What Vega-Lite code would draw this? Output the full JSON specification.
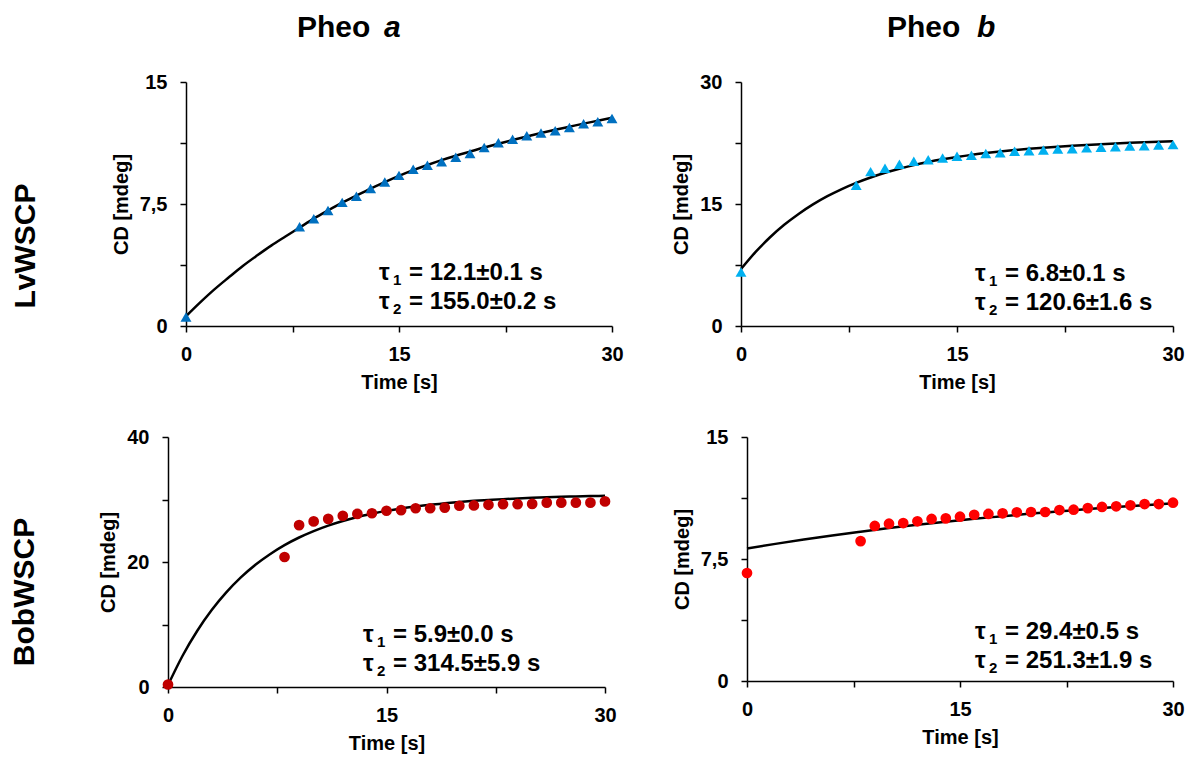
{
  "$schema": "https://vega.github.io/schema/vega-lite/v6.json",
  "background": "white",
  "padding": {"left": 0, "top": 0, "right": 5, "bottom": 5},
  "bounds": "full",
  "spacing": 29,
  "datasets": {
    "ptsA": [{"t":0,"cd":0.55},{"t":8,"cd":6.1},{"t":9,"cd":6.6},{"t":10,"cd":7.1},{"t":11,"cd":7.6},{"t":12,"cd":7.97},{"t":13,"cd":8.46},{"t":14,"cd":8.85},{"t":15,"cd":9.26},{"t":16,"cd":9.63},{"t":17,"cd":9.88},{"t":18,"cd":10.1},{"t":19,"cd":10.37},{"t":20,"cd":10.6},{"t":21,"cd":10.98},{"t":22,"cd":11.27},{"t":23,"cd":11.48},{"t":24,"cd":11.7},{"t":25,"cd":11.86},{"t":26,"cd":12.0},{"t":27,"cd":12.2},{"t":28,"cd":12.44},{"t":29,"cd":12.56},{"t":30,"cd":12.75}],
    "fitA": [{"t":0,"cd":0.6},{"t":1,"cd":1.45},{"t":2,"cd":2.25},{"t":3,"cd":2.98},{"t":4,"cd":3.69},{"t":5,"cd":4.33},{"t":6,"cd":4.94},{"t":7,"cd":5.5},{"t":8,"cd":6.05},{"t":9,"cd":6.6},{"t":10,"cd":7.1},{"t":11,"cd":7.58},{"t":12,"cd":8.02},{"t":13,"cd":8.45},{"t":14,"cd":8.85},{"t":15,"cd":9.23},{"t":16,"cd":9.58},{"t":17,"cd":9.9},{"t":18,"cd":10.2},{"t":19,"cd":10.47},{"t":20,"cd":10.72},{"t":21,"cd":10.97},{"t":22,"cd":11.2},{"t":23,"cd":11.43},{"t":24,"cd":11.65},{"t":25,"cd":11.86},{"t":26,"cd":12.06},{"t":27,"cd":12.25},{"t":28,"cd":12.44},{"t":29,"cd":12.62},{"t":30,"cd":12.8}],
    "ptsB": [{"t":0,"cd":6.64},{"t":8,"cd":17.3},{"t":9,"cd":18.98},{"t":10,"cd":19.4},{"t":11,"cd":19.9},{"t":12,"cd":20.25},{"t":13,"cd":20.45},{"t":14,"cd":20.65},{"t":15,"cd":20.86},{"t":16,"cd":21.0},{"t":17,"cd":21.2},{"t":18,"cd":21.3},{"t":19,"cd":21.5},{"t":20,"cd":21.56},{"t":21,"cd":21.64},{"t":22,"cd":21.76},{"t":23,"cd":21.8},{"t":24,"cd":21.9},{"t":25,"cd":21.97},{"t":26,"cd":22.05},{"t":27,"cd":22.13},{"t":28,"cd":22.17},{"t":29,"cd":22.25},{"t":30,"cd":22.3}],
    "fitB": [{"t":0,"cd":7.0},{"t":1,"cd":9.08},{"t":2,"cd":10.88},{"t":3,"cd":12.44},{"t":4,"cd":13.78},{"t":5,"cd":14.95},{"t":6,"cd":15.96},{"t":7,"cd":16.84},{"t":8,"cd":17.6},{"t":9,"cd":18.26},{"t":10,"cd":18.84},{"t":11,"cd":19.34},{"t":12,"cd":19.78},{"t":13,"cd":20.16},{"t":14,"cd":20.49},{"t":15,"cd":20.78},{"t":16,"cd":21.04},{"t":17,"cd":21.26},{"t":18,"cd":21.46},{"t":19,"cd":21.63},{"t":20,"cd":21.79},{"t":21,"cd":21.93},{"t":22,"cd":22.05},{"t":23,"cd":22.16},{"t":24,"cd":22.26},{"t":25,"cd":22.35},{"t":26,"cd":22.44},{"t":27,"cd":22.52},{"t":28,"cd":22.59},{"t":29,"cd":22.65},{"t":30,"cd":22.7}],
    "ptsC": [{"t":0,"cd":0.4},{"t":8,"cd":20.8},{"t":9,"cd":25.9},{"t":10,"cd":26.5},{"t":11,"cd":26.9},{"t":12,"cd":27.4},{"t":13,"cd":27.7},{"t":14,"cd":27.8},{"t":15,"cd":28.2},{"t":16,"cd":28.3},{"t":17,"cd":28.6},{"t":18,"cd":28.6},{"t":19,"cd":28.7},{"t":20,"cd":29.0},{"t":21,"cd":29.05},{"t":22,"cd":29.15},{"t":23,"cd":29.25},{"t":24,"cd":29.25},{"t":25,"cd":29.3},{"t":26,"cd":29.5},{"t":27,"cd":29.5},{"t":28,"cd":29.5},{"t":29,"cd":29.5},{"t":30,"cd":29.7}],
    "fitC": [{"t":0,"cd":0.3},{"t":1,"cd":5.0},{"t":2,"cd":8.96},{"t":3,"cd":12.31},{"t":4,"cd":15.13},{"t":5,"cd":17.53},{"t":6,"cd":19.55},{"t":7,"cd":21.25},{"t":8,"cd":22.7},{"t":9,"cd":23.92},{"t":10,"cd":24.95},{"t":11,"cd":25.83},{"t":12,"cd":26.57},{"t":13,"cd":27.2},{"t":14,"cd":27.72},{"t":15,"cd":28.18},{"t":16,"cd":28.57},{"t":17,"cd":28.89},{"t":18,"cd":29.17},{"t":19,"cd":29.4},{"t":20,"cd":29.61},{"t":21,"cd":29.79},{"t":22,"cd":29.93},{"t":23,"cd":30.06},{"t":24,"cd":30.17},{"t":25,"cd":30.27},{"t":26,"cd":30.35},{"t":27,"cd":30.43},{"t":28,"cd":30.49},{"t":29,"cd":30.55},{"t":30,"cd":30.6}],
    "ptsD": [{"t":0,"cd":6.64},{"t":8,"cd":8.6},{"t":9,"cd":9.53},{"t":10,"cd":9.67},{"t":11,"cd":9.71},{"t":12,"cd":9.82},{"t":13,"cd":9.96},{"t":14,"cd":10.0},{"t":15,"cd":10.1},{"t":16,"cd":10.22},{"t":17,"cd":10.27},{"t":18,"cd":10.31},{"t":19,"cd":10.37},{"t":20,"cd":10.39},{"t":21,"cd":10.39},{"t":22,"cd":10.51},{"t":23,"cd":10.53},{"t":24,"cd":10.63},{"t":25,"cd":10.7},{"t":26,"cd":10.74},{"t":27,"cd":10.8},{"t":28,"cd":10.88},{"t":29,"cd":10.88},{"t":30,"cd":10.96}],
    "fitD": [{"t":0,"cd":8.15},{"t":2,"cd":8.43},{"t":4,"cd":8.7},{"t":6,"cd":8.95},{"t":8,"cd":9.18},{"t":10,"cd":9.4},{"t":12,"cd":9.6},{"t":14,"cd":9.79},{"t":16,"cd":9.97},{"t":18,"cd":10.13},{"t":20,"cd":10.29},{"t":22,"cd":10.43},{"t":24,"cd":10.57},{"t":26,"cd":10.69},{"t":28,"cd":10.81},{"t":30,"cd":10.92}],
    "annA": [{"line":1,"sym":"τ","sub":"1","txt":"= 12.1±0.1 s"},{"line":2,"sym":"τ","sub":"2","txt":"= 155.0±0.2 s"}],
    "annB": [{"line":1,"sym":"τ","sub":"1","txt":"= 6.8±0.1 s"},{"line":2,"sym":"τ","sub":"2","txt":"= 120.6±1.6 s"}],
    "annC": [{"line":1,"sym":"τ","sub":"1","txt":"= 5.9±0.0 s"},{"line":2,"sym":"τ","sub":"2","txt":"= 314.5±5.9 s"}],
    "annD": [{"line":1,"sym":"τ","sub":"1","txt":"= 29.4±0.5 s"},{"line":2,"sym":"τ","sub":"2","txt":"= 251.3±1.9 s"}]
  },
  "vconcat": [
    {
      "bounds": "flush",
      "spacing": 129,
      "hconcat": [
        {"width": 57, "height": 40, "data": {"values": [{"label": ""}]}, "mark": {"type": "text"}, "encoding": {"text": {"field": "label"}}},
        {"width": 426, "height": 40, "data": {"values": [{"w": "Pheo", "v": "a"}]},
         "layer": [
           {"mark": {"type": "text", "fontSize": 30, "align": "left", "baseline": "middle", "dx": -102, "dy": 8}, "encoding": {"text": {"field": "w"}}},
           {"mark": {"type": "text", "fontSize": 30, "fontStyle": "italic", "align": "left", "baseline": "middle", "dx": -15, "dy": 8}, "encoding": {"text": {"field": "v"}}}
         ]},
        {"width": 432, "height": 40, "data": {"values": [{"w": "Pheo", "v": "b"}]},
         "layer": [
           {"mark": {"type": "text", "fontSize": 30, "align": "left", "baseline": "middle", "dx": -70, "dy": 8}, "encoding": {"text": {"field": "w"}}},
           {"mark": {"type": "text", "fontSize": 30, "fontStyle": "italic", "align": "left", "baseline": "middle", "dx": 20, "dy": 8}, "encoding": {"text": {"field": "v"}}}
         ]}
      ]
    },
    {
      "bounds": "flush",
      "spacing": 129,
      "hconcat": [
        {"width": 57, "height": 316, "data": {"values": [{"label": "LvWSCP"}]}, "mark": {"type": "text", "angle": 270, "fontSize": 30, "align": "center", "baseline": "middle", "dx": -6, "dy": -3}, "encoding": {"text": {"field": "label"}}},
        {
          "width": 426, "height": 244,
          "layer": [
            {"data": {"name": "fitA"}, "mark": {"type": "line", "color": "black", "strokeWidth": 2.5, "interpolate": "monotone"},
             "encoding": {
               "x": {"field": "t", "type": "quantitative", "scale": {"domain": [0, 30], "nice": false}, "axis": {"title": "Time [s]", "values": [0, 7.5, 15, 22.5, 30], "labelExpr": "datum.value % 15 === 0 ? toString(datum.value) : ''"}},
               "y": {"field": "cd", "type": "quantitative", "scale": {"domain": [0, 15], "nice": false}, "axis": {"title": "CD [mdeg]", "values": [0, 3.75, 7.5, 11.25, 15], "labelExpr": "datum.value % 7.5 === 0 ? replace(toString(datum.value), '.', ',') : ''"}}
             }},
            {"data": {"name": "ptsA"}, "mark": {"type": "point", "shape": "triangle-up", "filled": true, "size": 120, "color": "#0070C0", "opacity": 1},
             "encoding": {"x": {"field": "t", "type": "quantitative"}, "y": {"field": "cd", "type": "quantitative"}}},
            {"data": {"name": "annA"}, "transform": [{"filter": "datum.line === 1"}],
             "encoding": {"x": {"datum": 13.59, "type": "quantitative"}, "y": {"datum": 2.83, "type": "quantitative"}},
             "layer": [
               {"mark": {"type": "text", "fontSize": 24}, "encoding": {"text": {"field": "sym"}}},
               {"mark": {"type": "text", "fontSize": 15, "dx": 14, "dy": 5}, "encoding": {"text": {"field": "sub"}}},
               {"mark": {"type": "text", "fontSize": 24, "dx": 30}, "encoding": {"text": {"field": "txt"}}}
             ]},
            {"data": {"name": "annA"}, "transform": [{"filter": "datum.line === 2"}],
             "encoding": {"x": {"datum": 13.59, "type": "quantitative"}, "y": {"datum": 1.05, "type": "quantitative"}},
             "layer": [
               {"mark": {"type": "text", "fontSize": 24}, "encoding": {"text": {"field": "sym"}}},
               {"mark": {"type": "text", "fontSize": 15, "dx": 14, "dy": 5}, "encoding": {"text": {"field": "sub"}}},
               {"mark": {"type": "text", "fontSize": 24, "dx": 30}, "encoding": {"text": {"field": "txt"}}}
             ]}
          ]
        },
        {
          "width": 432, "height": 244,
          "layer": [
            {"data": {"name": "fitB"}, "mark": {"type": "line", "color": "black", "strokeWidth": 2.5, "interpolate": "monotone"},
             "encoding": {
               "x": {"field": "t", "type": "quantitative", "scale": {"domain": [0, 30], "nice": false}, "axis": {"title": "Time [s]", "values": [0, 7.5, 15, 22.5, 30], "labelExpr": "datum.value % 15 === 0 ? toString(datum.value) : ''"}},
               "y": {"field": "cd", "type": "quantitative", "scale": {"domain": [0, 30], "nice": false}, "axis": {"title": "CD [mdeg]", "values": [0, 7.5, 15, 22.5, 30], "labelExpr": "datum.value % 15 === 0 ? toString(datum.value) : ''"}}
             }},
            {"data": {"name": "ptsB"}, "mark": {"type": "point", "shape": "triangle-up", "filled": true, "size": 120, "color": "#00B0F0", "opacity": 1},
             "encoding": {"x": {"field": "t", "type": "quantitative"}, "y": {"field": "cd", "type": "quantitative"}}},
            {"data": {"name": "annB"}, "transform": [{"filter": "datum.line === 1"}],
             "encoding": {"x": {"datum": 16.25, "type": "quantitative"}, "y": {"datum": 5.53, "type": "quantitative"}},
             "layer": [
               {"mark": {"type": "text", "fontSize": 24}, "encoding": {"text": {"field": "sym"}}},
               {"mark": {"type": "text", "fontSize": 15, "dx": 14, "dy": 5}, "encoding": {"text": {"field": "sub"}}},
               {"mark": {"type": "text", "fontSize": 24, "dx": 30}, "encoding": {"text": {"field": "txt"}}}
             ]},
            {"data": {"name": "annB"}, "transform": [{"filter": "datum.line === 2"}],
             "encoding": {"x": {"datum": 16.25, "type": "quantitative"}, "y": {"datum": 1.97, "type": "quantitative"}},
             "layer": [
               {"mark": {"type": "text", "fontSize": 24}, "encoding": {"text": {"field": "sym"}}},
               {"mark": {"type": "text", "fontSize": 15, "dx": 14, "dy": 5}, "encoding": {"text": {"field": "sub"}}},
               {"mark": {"type": "text", "fontSize": 24, "dx": 30}, "encoding": {"text": {"field": "txt"}}}
             ]}
          ]
        }
      ]
    },
    {
      "bounds": "flush",
      "spacing": 142,
      "hconcat": [
        {"width": 26, "height": 250, "data": {"values": [{"label": "BobWSCP"}]}, "mark": {"type": "text", "angle": 270, "fontSize": 30, "align": "center", "baseline": "middle", "dx": -30, "dy": 12}, "encoding": {"text": {"field": "label"}}},
        {
          "width": 437, "height": 250,
          "layer": [
            {"data": {"name": "fitC"}, "mark": {"type": "line", "color": "black", "strokeWidth": 2.5, "interpolate": "monotone"},
             "encoding": {
               "x": {"field": "t", "type": "quantitative", "scale": {"domain": [0, 30], "nice": false}, "axis": {"title": "Time [s]", "values": [0, 7.5, 15, 22.5, 30], "labelExpr": "datum.value % 15 === 0 ? toString(datum.value) : ''"}},
               "y": {"field": "cd", "type": "quantitative", "scale": {"domain": [0, 40], "nice": false}, "axis": {"title": "CD [mdeg]", "values": [0, 10, 20, 30, 40], "labelExpr": "datum.value % 20 === 0 ? toString(datum.value) : ''"}}
             }},
            {"data": {"name": "ptsC"}, "mark": {"type": "point", "shape": "circle", "filled": true, "size": 115, "color": "#C00000", "opacity": 1},
             "encoding": {"x": {"field": "t", "type": "quantitative"}, "y": {"field": "cd", "type": "quantitative"}}},
            {"data": {"name": "annC"}, "transform": [{"filter": "datum.line === 1"}],
             "encoding": {"x": {"datum": 13.39, "type": "quantitative"}, "y": {"datum": 7.2, "type": "quantitative"}},
             "layer": [
               {"mark": {"type": "text", "fontSize": 24}, "encoding": {"text": {"field": "sym"}}},
               {"mark": {"type": "text", "fontSize": 15, "dx": 14, "dy": 5}, "encoding": {"text": {"field": "sub"}}},
               {"mark": {"type": "text", "fontSize": 24, "dx": 30}, "encoding": {"text": {"field": "txt"}}}
             ]},
            {"data": {"name": "annC"}, "transform": [{"filter": "datum.line === 2"}],
             "encoding": {"x": {"datum": 13.39, "type": "quantitative"}, "y": {"datum": 2.56, "type": "quantitative"}},
             "layer": [
               {"mark": {"type": "text", "fontSize": 24}, "encoding": {"text": {"field": "sym"}}},
               {"mark": {"type": "text", "fontSize": 15, "dx": 14, "dy": 5}, "encoding": {"text": {"field": "sub"}}},
               {"mark": {"type": "text", "fontSize": 24, "dx": 30}, "encoding": {"text": {"field": "txt"}}}
             ]}
          ]
        },
        {
          "width": 426, "height": 244,
          "layer": [
            {"data": {"name": "fitD"}, "mark": {"type": "line", "color": "black", "strokeWidth": 2.5, "interpolate": "monotone"},
             "encoding": {
               "x": {"field": "t", "type": "quantitative", "scale": {"domain": [0, 30], "nice": false}, "axis": {"title": "Time [s]", "values": [0, 7.5, 15, 22.5, 30], "labelExpr": "datum.value % 15 === 0 ? toString(datum.value) : ''"}},
               "y": {"field": "cd", "type": "quantitative", "scale": {"domain": [0, 15], "nice": false}, "axis": {"title": "CD [mdeg]", "values": [0, 3.75, 7.5, 11.25, 15], "labelExpr": "datum.value % 7.5 === 0 ? replace(toString(datum.value), '.', ',') : ''"}}
             }},
            {"data": {"name": "ptsD"}, "mark": {"type": "point", "shape": "circle", "filled": true, "size": 115, "color": "#FF0000", "opacity": 1},
             "encoding": {"x": {"field": "t", "type": "quantitative"}, "y": {"field": "cd", "type": "quantitative"}}},
            {"data": {"name": "annD"}, "transform": [{"filter": "datum.line === 1"}],
             "encoding": {"x": {"datum": 16.06, "type": "quantitative"}, "y": {"datum": 2.58, "type": "quantitative"}},
             "layer": [
               {"mark": {"type": "text", "fontSize": 24}, "encoding": {"text": {"field": "sym"}}},
               {"mark": {"type": "text", "fontSize": 15, "dx": 14, "dy": 5}, "encoding": {"text": {"field": "sub"}}},
               {"mark": {"type": "text", "fontSize": 24, "dx": 30}, "encoding": {"text": {"field": "txt"}}}
             ]},
            {"data": {"name": "annD"}, "transform": [{"filter": "datum.line === 2"}],
             "encoding": {"x": {"datum": 16.06, "type": "quantitative"}, "y": {"datum": 0.8, "type": "quantitative"}},
             "layer": [
               {"mark": {"type": "text", "fontSize": 24}, "encoding": {"text": {"field": "sym"}}},
               {"mark": {"type": "text", "fontSize": 15, "dx": 14, "dy": 5}, "encoding": {"text": {"field": "sub"}}},
               {"mark": {"type": "text", "fontSize": 24, "dx": 30}, "encoding": {"text": {"field": "txt"}}}
             ]}
          ]
        }
      ]
    }
  ],
  "config": {
    "font": "Liberation Sans",
    "view": {"stroke": null},
    "text": {"font": "Liberation Sans", "fontWeight": "bold", "color": "black", "align": "left", "baseline": "alphabetic"},
    "axis": {
      "grid": false, "domainColor": "black", "domainWidth": 1.5, "tickColor": "black", "tickWidth": 1.5, "tickSize": 6,
      "labelFont": "Liberation Sans", "labelFontSize": 20, "labelFontWeight": "bold", "labelColor": "black", "labelPadding": 12,
      "labelFlush": false, "labelOverlap": false,
      "titleFont": "Liberation Sans", "titleFontSize": 20, "titleFontWeight": "bold", "titleColor": "black"
    },
    "axisX": {"titlePadding": 8},
    "axisY": {"titlePadding": 8, "labelPadding": 13}
  }
}
